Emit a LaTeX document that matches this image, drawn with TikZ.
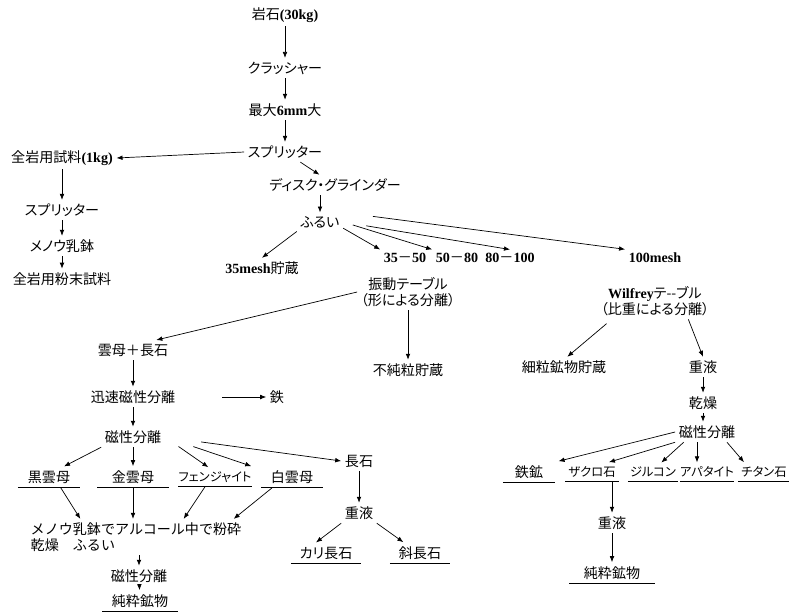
\documentclass[tikz,border=0pt]{standalone}
\usepackage{fontspec}
\setmainfont{Noto Sans CJK JP}[RawFeature=+palt]
\newfontfamily\fullwidth{Noto Sans CJK JP}
\newfontfamily\latfont{Liberation Serif}
\newcommand\lat{\latfont\bfseries}
\usepackage{tikz}
\usetikzlibrary{arrows.meta}

\begin{document}
\begin{tikzpicture}[x=0.03cm, y=-0.03cm,
    font=\fontsize{12}{13.5}\selectfont,
    txt/.style={inner sep=3pt},
    kana/.style={font=\fontsize{10.5}{12}\selectfont},
    twoline/.style={align=center, inner sep=3pt},
    ul/.style={minimum width=#1, inner xsep=0pt, inner ysep=3.5pt},
    uline/.style={line width=0.8pt},
    arrow/.style={-{Latex[length=1.8mm, width=1.4mm]}, line width=0.6pt}
  ]
  \useasboundingbox (0,0) rectangle (789,612);

  % crushing line
  \node[txt] (rock) at (285,15) {岩石{\lat(30kg)}};
  \node[txt] (crush) at (285,68) {クラッシャー};
  \node[txt] (max6) at (285,110) {最大{\lat 6mm}大};
  \node[txt] (split) at (285,152) {スプリッター};
  % whole rock sample
  \node[txt] (whole) at (62,158) {全岩用試料{\lat(1kg)}};
  \node[txt] (split2) at (62,210) {スプリッター};
  \node[txt] (agate) at (62,246) {メノウ乳鉢};
  \node[txt] (wpowder) at (62,279) {全岩用粉末試料};
  % grinding and sieving
  \node[txt] (disk) at (335,185) {ディスク・グラインダー};
  \node[txt] (sieve) at (320,222) {ふるい};
  \node[txt] (m35) at (262,268) {{\lat 35mesh}貯蔵};
  \node[txt] (r1) at (405,258) {{\lat 35}－{\lat 50}};
  \node[txt] (r2) at (457,258) {{\lat 50}－{\lat 80}};
  \node[txt] (r3) at (510,258) {{\lat 80}－{\lat 100}};
  \node[txt] (m100) at (655,258) {\lat 100mesh};

  % shaking table branch
  \node[twoline] (shake) at (408,292) {振動テーブル\\（形による分離）};
  \node[txt] (micafs) at (133,350) {雲母＋長石};
  \node[txt] (impure) at (408,370) {不純粒貯蔵};
  \node[txt] (quick) at (133,397) {迅速磁性分離};
  \node[txt] (iron) at (277,397) {鉄};
  \node[txt] (mag1) at (133,437) {磁性分離};
  \node[txt, ul=1.86cm] (bio) at (49,477) {黒雲母};
  \node[txt, ul=2.13cm] (phl) at (133,477) {金雲母};
  \node[txt, kana, ul=2.19cm] (phe) at (215,477) {フェンジャイト};
  \node[txt, ul=1.83cm] (mus) at (292,477) {白雲母};
  \node[txt] (fs) at (359,461) {長石};
  \node[txt] (hl1) at (359,513) {重液};
  \node[txt, ul=2.1cm] (kfs) at (326,553) {カリ長石};
  \node[txt, ul=1.8cm] (pl) at (420,553) {斜長石};
  \node[txt, align=left, anchor=west] (grind) at (27,537) {\fullwidth メノウ乳鉢でアルコール中で粉砕\\\fullwidth 乾燥　ふるい};
  \node[txt] (mag2) at (139,576) {磁性分離};
  \node[txt, ul=2.25cm] (pure1) at (140,601) {純粋鉱物};

  % Wilfrey table branch
  \node[twoline] (wil) at (655,301) {{\lat Wilfrey}テ-{}-ブル\\（比重による分離）};
  \node[txt] (fine) at (564,367) {細粒鉱物貯蔵};
  \node[txt] (hl2) at (703,367) {重液};
  \node[txt] (dry) at (703,403) {乾燥};
  \node[txt] (mag3) at (707,432) {磁性分離};
  \node[txt, ul=1.56cm] (ore) at (529,472) {鉄鉱};
  \node[txt, kana, ul=1.6cm] (garnet) at (592,472) {ザクロ石};
  \node[txt, kana, ul=1.5cm] (zircon) at (653,472) {ジルコン};
  \node[txt, kana, ul=1.3cm] (apatite) at (707,472) {アパタイト};
  \node[txt, kana, ul=1.56cm] (titanite) at (764,472) {チタン石};
  \node[txt] (hl3) at (612,523) {重液};
  \node[txt, ul=2.55cm] (pure2) at (612,573) {純粋鉱物};

  \draw[arrow] (rock) -- (crush);
  \draw[arrow] (crush) -- (max6);
  \draw[arrow] (max6) -- (split);
  \draw[arrow] (split.west) -- (whole.east);
  \draw[arrow] (whole) -- (split2);
  \draw[arrow] (split2) -- (agate);
  \draw[arrow] (agate) -- (wpowder);
  \draw[arrow] (split) -- (disk);
  \draw[arrow] (disk.south -| sieve.north) -- (sieve.north);
  \draw[arrow] (sieve.south west) -- (m35.north);
  \draw[arrow] (sieve.-15) -- (r1.north west);
  \draw[arrow, shorten <=0.3cm] (sieve.east) -- (r2.north west);
  \draw[arrow, shorten <=0.7cm] (sieve.east) -- (r3.north);
  \draw[arrow, shorten <=0.9cm] (sieve.north east) -- (m100.north west);

  \draw[arrow] (shake.west) -- ([xshift=0.7cm]micafs.north);
  \draw[arrow] (shake.south) -- (impure.north);
  \draw[arrow] (micafs) -- (quick);
  \draw[arrow, shorten <=1.3cm] (quick) -- (iron);
  \draw[arrow] (quick) -- (mag1);
  \draw[arrow] (mag1.south west) -- ([xshift=0.45cm]bio.north);
  \draw[arrow] (mag1) -- (phl);
  \draw[arrow, shorten <=0.5cm] (mag1.east) -- ([xshift=-0.2cm]phe.north);
  \draw[arrow, shorten <=0.9cm] (mag1.east) -- ([xshift=-0.3cm]mus.north west);
  \draw[arrow, shorten <=1.1cm] (mag1.east) -- (fs.west);
  \draw[arrow] ([xshift=0.35cm]bio.south) -- ([xshift=1.6cm]grind.north west);
  \draw[arrow] (phl.south) -- (phl.south |- grind.north);
  \draw[arrow] ([xshift=-0.3cm]phe.south) -- ([xshift=4.7cm]grind.north west);
  \draw[arrow] ([xshift=-0.6cm]mus.south) -- ([xshift=6.2cm]grind.north west);
  \draw[arrow] (grind.south -| mag2.north) -- (mag2.north);
  \draw[arrow] (mag2) -- (pure1);
  \draw[arrow] (fs) -- (hl1);
  \draw[arrow] (hl1.south west) -- ([xshift=-0.3cm]kfs.north);
  \draw[arrow] (hl1.south east) -- ([xshift=-0.5cm]pl.north);

  \draw[arrow, shorten <=0.2cm] ([xshift=-1.3cm]wil.south) -- ([xshift=0.1cm]fine.north);
  \draw[arrow] ([xshift=1cm]wil.south) -- (hl2.north);
  \draw[arrow] (hl2) -- (dry);
  \draw[arrow] (dry) -- (mag3.north -| dry.south);
  \draw[arrow] (mag3.west) -- ([xshift=0.1cm]ore.north east);
  \draw[arrow] (mag3.south west) -- ([xshift=-0.3cm]garnet.north east);
  \draw[arrow] ([xshift=-0.7cm]mag3.south) -- ([xshift=0.25cm]zircon.north);
  \draw[arrow] ([xshift=-0.3cm]mag3.south) -- ([xshift=-0.3cm]apatite.north);
  \draw[arrow] ([xshift=0.6cm]mag3.south) -- ([xshift=-0.6cm]titanite.north);
  \draw[arrow] (garnet.south -| hl3.north) -- (hl3.north);
  \draw[arrow] (hl3) -- (pure2);

  % underlines of end products
  \foreach \n in {bio,phl,phe,mus,kfs,pl,pure1,ore,garnet,zircon,apatite,titanite,pure2}
    \draw[uline] (\n.south west) -- (\n.south east);
\end{tikzpicture}
\end{document}
